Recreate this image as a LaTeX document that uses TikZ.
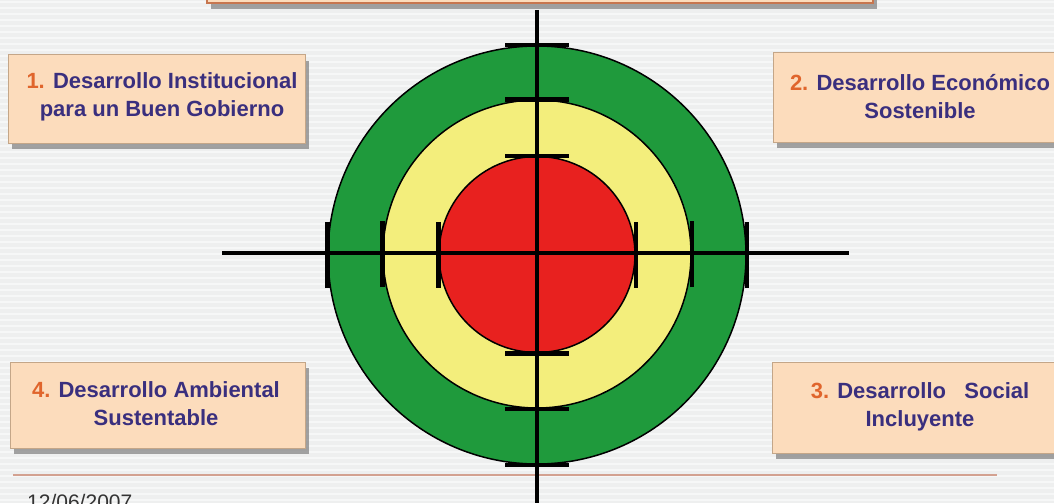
\documentclass[tikz,border=0pt]{standalone}
\usepackage{fontspec}
\setmainfont{Liberation Sans}
\usetikzlibrary{shadows}
\definecolor{bg}{HTML}{EEEFEF}
\definecolor{stripe}{HTML}{F6F7F7}
\definecolor{peach}{HTML}{FCDCBC}
\definecolor{boxline}{HTML}{C4A688}
\definecolor{txt}{HTML}{3A2F7E}
\definecolor{num}{HTML}{E0652C}
\definecolor{tgreen}{HTML}{1F9A3C}
\definecolor{tyellow}{HTML}{F3EE7C}
\definecolor{tred}{HTML}{E8211F}
\definecolor{rule}{HTML}{D3A190}
\definecolor{topline}{HTML}{C7764F}
\tikzset{
  pbox/.style={draw=boxline, fill=peach, line width=1pt, rectangle, inner sep=0pt,
    drop shadow={shadow xshift=4pt, shadow yshift=-6pt, fill=black!45, opacity=0.8}},
  ptext/.style={font=\bfseries\fontsize{22}{28}\selectfont, text=txt, align=center, inner sep=0pt},
  ring/.style={circle, draw=black, line width=1.5pt, inner sep=0pt},
  crossline/.style={draw=black, line width=3.2pt},
  tickbar/.style={draw=black, line width=4.5pt},
}
\newcommand{\nm}[1]{\textcolor{num}{#1}}
\begin{document}
\begin{tikzpicture}[x=1pt,y=-1pt]
\useasboundingbox (0,0) rectangle (1054,503);
\clip (0,0) rectangle (1054,503);
\fill[bg] (0,0) rectangle (1054,503);
\foreach \yy in {2,8,...,503} { \draw[stripe, line width=2pt] (0,\yy) -- (1054,\yy); }
% top (cut-off) box
\node[pbox, draw=topline, line width=2.5pt, minimum width=666pt, minimum height=40pt] (top) at (540,-17) {};
% boxes
\node[pbox, minimum width=297pt, minimum height=88pt] (b1) at (156.5,99) {};
\node[pbox, minimum width=290pt, minimum height=89pt] (b2) at (918,97.5) {};
\node[pbox, minimum width=295pt, minimum height=86pt] (b4) at (157.5,405) {};
\node[pbox, minimum width=290pt, minimum height=91pt] (b3) at (917,407.5) {};
\node[ptext] (t1) at (162,97) {\nm{1.} Desarrollo Institucional\\para un Buen Gobierno};
\node[ptext] (t2) at (920,97) {\nm{2.} Desarrollo Económico\\Sostenible};
\node[ptext] (t4) at (156,404) {\nm{4.} Desarrollo Ambiental\\Sustentable};
\node[ptext] (t3) at (920,407) {\nm{3.} Desarrollo\ \ \ Social\\Incluyente};
% bottom rule and date
\coordinate (rl) at (13,475);
\coordinate (rr) at (997,475);
\draw[rule, line width=2.5pt] (rl) -- (rr);
\node[anchor=base west, inner sep=0pt, font=\fontsize{21}{21}\selectfont, text=black!80] (date) at (27,509) {12/06/2007};
% target
\node[ring, fill=tgreen, minimum size=418pt] (g) at (537,255) {};
\node[ring, fill=tyellow, minimum size=308pt] (y) at (537,254) {};
\node[ring, fill=tred, minimum size=196pt] (r) at (537,254.5) {};
\coordinate (vt) at (537,10);
\coordinate (vb) at (537,503);
\coordinate (hl) at (222,253);
\coordinate (hr) at (849,253);
\draw[crossline] (vt) -- (vb);
\draw[crossline] (hl) -- (hr);
\foreach \n in {g,y,r} {
  \draw[tickbar] ([xshift=-32pt]\n.north) -- ([xshift=32pt]\n.north);
  \draw[tickbar] ([xshift=-32pt]\n.south) -- ([xshift=32pt]\n.south);
  \draw[tickbar] ([yshift=-33pt]\n.west) -- ([yshift=33pt]\n.west);
  \draw[tickbar] ([yshift=-33pt]\n.east) -- ([yshift=33pt]\n.east);
}
\end{tikzpicture}
\end{document}
